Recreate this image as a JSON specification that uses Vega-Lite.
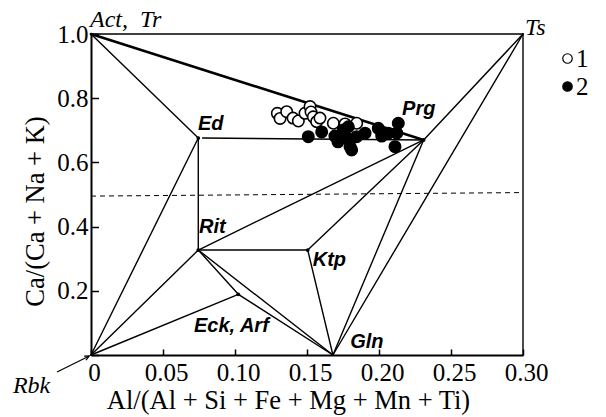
{
  "$schema": "https://vega.github.io/schema/vega-lite/v6.json",
  "width": 432,
  "height": 321,
  "autosize": {"type": "none"},
  "padding": {"left": 91, "top": 34, "right": 83, "bottom": 62},
  "background": "white",
  "config": {"view": {"stroke": null}, "font": "Liberation Serif"},
  "datasets": {
    "segments": [
      {"from": "Act", "to": "Ts", "x1": 0, "y1": 1, "x2": 0.3, "y2": 1},
      {"from": "Ts", "to": "Corner", "x1": 0.3, "y1": 1, "x2": 0.3, "y2": 0},
      {"from": "Act", "to": "Prg", "x1": 0, "y1": 1, "x2": 0.231, "y2": 0.67},
      {"from": "Act", "to": "Ed", "x1": 0, "y1": 1, "x2": 0.0745, "y2": 0.676},
      {"from": "Ed", "to": "Prg", "x1": 0.0775, "y1": 0.676, "x2": 0.231, "y2": 0.67},
      {"from": "Ed", "to": "Rit", "x1": 0.0745, "y1": 0.676, "x2": 0.0745, "y2": 0.327},
      {"from": "Rbk", "to": "Ed", "x1": 0, "y1": 0, "x2": 0.0745, "y2": 0.676},
      {"from": "Rbk", "to": "Rit", "x1": 0, "y1": 0, "x2": 0.0745, "y2": 0.327},
      {"from": "Rbk", "to": "Eck", "x1": 0, "y1": 0, "x2": 0.1023, "y2": 0.189},
      {"from": "Rit", "to": "Eck", "x1": 0.0745, "y1": 0.327, "x2": 0.1023, "y2": 0.189},
      {"from": "Eck", "to": "Gln", "x1": 0.1023, "y1": 0.189, "x2": 0.168, "y2": 0},
      {"from": "Rit", "to": "Gln", "x1": 0.0745, "y1": 0.327, "x2": 0.168, "y2": 0},
      {"from": "Rit", "to": "Ktp", "x1": 0.0745, "y1": 0.327, "x2": 0.1505, "y2": 0.327},
      {"from": "Ktp", "to": "Gln", "x1": 0.1505, "y1": 0.327, "x2": 0.168, "y2": 0},
      {"from": "Rit", "to": "Prg", "x1": 0.0745, "y1": 0.327, "x2": 0.231, "y2": 0.67},
      {"from": "Ktp", "to": "Prg", "x1": 0.1505, "y1": 0.327, "x2": 0.231, "y2": 0.67},
      {"from": "Prg", "to": "Gln", "x1": 0.231, "y1": 0.67, "x2": 0.168, "y2": 0},
      {"from": "Ts", "to": "Prg", "x1": 0.3, "y1": 1, "x2": 0.231, "y2": 0.67},
      {"from": "Ts", "to": "Gln", "x1": 0.3, "y1": 1, "x2": 0.168, "y2": 0}
    ],
    "vertices": [
      {"name": "Ed", "x": 0.0745, "y": 0.676},
      {"name": "Rit", "x": 0.0745, "y": 0.327},
      {"name": "Ktp", "x": 0.1505, "y": 0.327},
      {"name": "Eck", "x": 0.1023, "y": 0.189},
      {"name": "Prg", "x": 0.231, "y": 0.67}
    ],
    "divider": [{"x1": 0, "y1": 0.495, "x2": 0.3, "y2": 0.506}],
    "arrow": [{"x1": -0.0236, "y1": -0.053, "x2": -0.0012, "y2": -0.003}],
    "samples": [
      {"group": "1", "x": 0.1294, "y": 0.753},
      {"group": "1", "x": 0.1313, "y": 0.737},
      {"group": "1", "x": 0.1359, "y": 0.758},
      {"group": "1", "x": 0.1403, "y": 0.738},
      {"group": "1", "x": 0.144, "y": 0.729},
      {"group": "1", "x": 0.1486, "y": 0.753},
      {"group": "1", "x": 0.1521, "y": 0.774},
      {"group": "1", "x": 0.1528, "y": 0.757},
      {"group": "1", "x": 0.1544, "y": 0.742},
      {"group": "1", "x": 0.1567, "y": 0.727},
      {"group": "1", "x": 0.159, "y": 0.738},
      {"group": "1", "x": 0.1683, "y": 0.722},
      {"group": "1", "x": 0.1764, "y": 0.72},
      {"group": "1", "x": 0.1845, "y": 0.722},
      {"group": "2", "x": 0.1509, "y": 0.68},
      {"group": "2", "x": 0.1602, "y": 0.695},
      {"group": "2", "x": 0.1694, "y": 0.682},
      {"group": "2", "x": 0.1715, "y": 0.664},
      {"group": "2", "x": 0.1752, "y": 0.701},
      {"group": "2", "x": 0.1787, "y": 0.711},
      {"group": "2", "x": 0.1778, "y": 0.676},
      {"group": "2", "x": 0.1743, "y": 0.682},
      {"group": "2", "x": 0.1799, "y": 0.649},
      {"group": "2", "x": 0.181, "y": 0.639},
      {"group": "2", "x": 0.1845, "y": 0.68},
      {"group": "2", "x": 0.1903, "y": 0.691},
      {"group": "2", "x": 0.1995, "y": 0.706},
      {"group": "2", "x": 0.2019, "y": 0.682},
      {"group": "2", "x": 0.2065, "y": 0.691},
      {"group": "2", "x": 0.2111, "y": 0.649},
      {"group": "2", "x": 0.2134, "y": 0.722},
      {"group": "2", "x": 0.2123, "y": 0.691}
    ],
    "mineralLabels": [
      {"text": "Ed", "x": 0.0743, "y": 0.701},
      {"text": "Prg", "x": 0.216, "y": 0.748},
      {"text": "Rit", "x": 0.075, "y": 0.38},
      {"text": "Ktp", "x": 0.154, "y": 0.278},
      {"text": "Eck, Arf", "x": 0.0715, "y": 0.0717},
      {"text": "Gln", "x": 0.18, "y": 0.0218}
    ],
    "endLabels": [
      {"text": "Act,\u00a0\u00a0Tr", "x": -0.0007, "y": 1.0218},
      {"text": "Ts", "x": 0.3014, "y": 0.9969},
      {"text": "Rbk", "x": -0.0542, "y": -0.1184}
    ]
  },
  "layer": [
    {
      "data": {"name": "segments"},
      "mark": {"type": "rule", "stroke": "black", "strokeWidth": 1.4, "strokeCap": "round"},
      "transform": [{"filter": "!(datum.from == 'Act' && datum.to == 'Prg')"}],
      "encoding": {
        "x": {
          "field": "x1", "type": "quantitative",
          "scale": {"domain": [0, 0.3], "nice": false, "zero": false},
          "axis": {
            "values": [0, 0.025, 0.05, 0.075, 0.1, 0.125, 0.15, 0.175, 0.2, 0.225, 0.25, 0.275, 0.3],
            "labelExpr": "datum.value == 0 ? '0' : (round(datum.value * 1000) % 50 == 0 ? format(datum.value, '.2f') : '')",
            "tickSize": {"condition": {"test": "round(datum.value * 1000) % 50 == 0", "value": -6}, "value": -3.5},
            "tickColor": "black",
            "tickWidth": 1.5,
            "grid": false,
            "labelPadding": 11.5,
            "labelOffset": 3,
            "labelFlush": false,
            "labelOverlap": false,
            "labelFont": "Liberation Serif",
            "labelFontSize": 25,
            "labelColor": "black",
            "domainColor": "black",
            "domainWidth": 2,
            "title": "Al/(Al + Si + Fe + Mg + Mn + Ti)",
            "titleFont": "Liberation Serif",
            "titleFontSize": 26.5,
            "titleFontWeight": "normal",
            "titleColor": "black",
            "titleX": 197,
            "titleY": 53,
            "titleAlign": "center",
            "titleBaseline": "alphabetic"
          }
        },
        "y": {
          "field": "y1", "type": "quantitative",
          "scale": {"domain": [0, 1], "nice": false, "zero": false},
          "axis": {
            "values": [0, 0.1, 0.2, 0.3, 0.4, 0.5, 0.6, 0.7, 0.8, 0.9, 1.0],
            "labelExpr": "(datum.value > 0 && round(datum.value * 10) % 2 == 0) ? format(datum.value, '.1f') : ''",
            "tickSize": {"condition": {"test": "round(datum.value * 10) % 2 == 0", "value": -7.5}, "value": -4},
            "tickColor": "black",
            "tickWidth": 1.5,
            "grid": false,
            "labelPadding": 10.5,
            "labelFlush": false,
            "labelOverlap": false,
            "labelFont": "Liberation Serif",
            "labelFontSize": 25,
            "labelColor": "black",
            "domainColor": "black",
            "domainWidth": 2,
            "title": "Ca/(Ca + Na + K)",
            "titleFont": "Liberation Serif",
            "titleFontSize": 26.5,
            "titleFontWeight": "normal",
            "titleColor": "black",
            "titleAngle": -90,
            "titleX": -48,
            "titleY": 177,
            "titleAlign": "center",
            "titleBaseline": "alphabetic"
          }
        },
        "x2": {"field": "x2"},
        "y2": {"field": "y2"}
      }
    },
    {
      "data": {"name": "segments"},
      "mark": {"type": "rule", "stroke": "black", "strokeWidth": 2.6, "strokeCap": "round"},
      "transform": [{"filter": "datum.from == 'Act' && datum.to == 'Prg'"}],
      "encoding": {
        "x": {"field": "x1", "type": "quantitative", "scale": {"domain": [0, 0.3], "nice": false, "zero": false}},
        "y": {"field": "y1", "type": "quantitative", "scale": {"domain": [0, 1], "nice": false, "zero": false}},
        "x2": {"field": "x2"},
        "y2": {"field": "y2"}
      }
    },
    {
      "data": {"name": "divider"},
      "mark": {"type": "rule", "stroke": "black", "strokeWidth": 1, "strokeDash": [5, 4]},
      "encoding": {
        "x": {"field": "x1", "type": "quantitative", "scale": {"domain": [0, 0.3], "nice": false, "zero": false}},
        "y": {"field": "y1", "type": "quantitative", "scale": {"domain": [0, 1], "nice": false, "zero": false}},
        "x2": {"field": "x2"},
        "y2": {"field": "y2"}
      }
    },
    {
      "data": {"name": "arrow"},
      "mark": {"type": "rule", "stroke": "black", "strokeWidth": 1.2},
      "encoding": {
        "x": {"field": "x1", "type": "quantitative", "scale": {"domain": [0, 0.3], "nice": false, "zero": false}},
        "y": {"field": "y1", "type": "quantitative", "scale": {"domain": [0, 1], "nice": false, "zero": false}},
        "x2": {"field": "x2"},
        "y2": {"field": "y2"}
      }
    },
    {
      "data": {"name": "arrow"},
      "mark": {"type": "point", "shape": "M-0.45,1L0,0L0.45,1", "filled": false, "stroke": "black", "strokeWidth": 1.2, "size": 90, "angle": 63, "opacity": 1},
      "encoding": {
        "x": {"field": "x2", "type": "quantitative", "scale": {"domain": [0, 0.3], "nice": false, "zero": false}},
        "y": {"field": "y2", "type": "quantitative", "scale": {"domain": [0, 1], "nice": false, "zero": false}}
      }
    },
    {
      "data": {"name": "vertices"},
      "mark": {"type": "point", "filled": true, "color": "black", "size": 14, "opacity": 1},
      "encoding": {
        "x": {"field": "x", "type": "quantitative", "scale": {"domain": [0, 0.3], "nice": false, "zero": false}},
        "y": {"field": "y", "type": "quantitative", "scale": {"domain": [0, 1], "nice": false, "zero": false}}
      }
    },
    {
      "data": {"name": "samples"},
      "mark": {"type": "point", "filled": true, "stroke": "black", "strokeWidth": 1.6, "size": 130, "opacity": 1},
      "encoding": {
        "x": {"field": "x", "type": "quantitative", "scale": {"domain": [0, 0.3], "nice": false, "zero": false}},
        "y": {"field": "y", "type": "quantitative", "scale": {"domain": [0, 1], "nice": false, "zero": false}},
        "fill": {
          "field": "group", "type": "nominal",
          "scale": {"domain": ["1", "2"], "range": ["white", "black"]},
          "legend": {
            "orient": "none",
            "legendX": 464,
            "legendY": 12,
            "title": null,
            "padding": 0,
            "labelFont": "Liberation Serif",
            "labelFontSize": 25,
            "labelColor": "black",
            "symbolType": "circle",
            "symbolSize": 90,
            "symbolStrokeColor": "black",
            "symbolStrokeWidth": 1.2,
            "symbolOpacity": 1,
            "rowPadding": 2,
            "labelOffset": -4
          }
        }
      }
    },
    {
      "data": {"name": "mineralLabels"},
      "mark": {"type": "text", "font": "Liberation Sans", "fontSize": 20, "fontWeight": "bold", "fontStyle": "italic", "align": "left", "baseline": "alphabetic", "color": "black"},
      "encoding": {
        "x": {"field": "x", "type": "quantitative", "scale": {"domain": [0, 0.3], "nice": false, "zero": false}},
        "y": {"field": "y", "type": "quantitative", "scale": {"domain": [0, 1], "nice": false, "zero": false}},
        "text": {"field": "text"}
      }
    },
    {
      "data": {"name": "endLabels"},
      "mark": {"type": "text", "font": "Liberation Serif", "fontSize": 24, "fontStyle": "italic", "align": "left", "baseline": "alphabetic", "color": "black"},
      "encoding": {
        "x": {"field": "x", "type": "quantitative", "scale": {"domain": [0, 0.3], "nice": false, "zero": false}},
        "y": {"field": "y", "type": "quantitative", "scale": {"domain": [0, 1], "nice": false, "zero": false}},
        "text": {"field": "text"}
      }
    }
  ]
}
